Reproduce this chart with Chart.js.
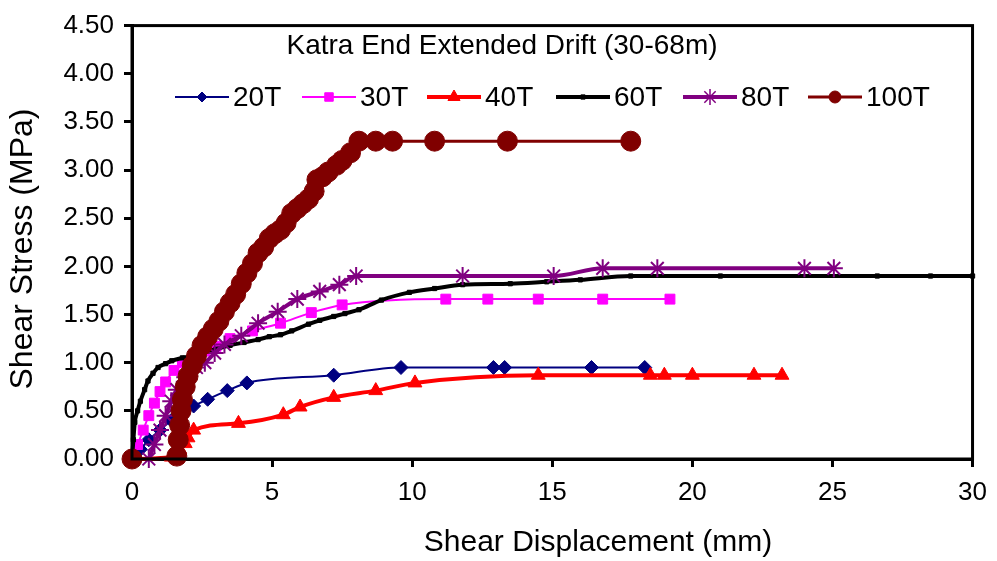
<!DOCTYPE html>
<html>
<head>
<meta charset="utf-8">
<script src="https://cdn.jsdelivr.net/npm/chart.js@4"></script>
<style>
  html, body { margin: 0; padding: 0; background: #fff; }
  #wrap { width: 997px; height: 561px; }
</style>
</head>
<body>
<div id="wrap"><canvas id="chart" width="997" height="561"></canvas></div>
<script>
// values (shear displacement in mm, shear stress in MPa)
const chartTitle = "Katra End Extended Drift (30-68m)";
const xTitle = "Shear Displacement (mm)";
const yTitle = "Shear Stress (MPa)";
const seriesNames = ["20T", "30T", "40T", "60T", "80T", "100T"];
const xTicks = [0, 5, 10, 15, 20, 25, 30];
const yTicks = [0, 0.5, 1, 1.5, 2, 2.5, 3, 3.5, 4, 4.5];

const x20 = [0, 0.3, 0.6, 1.0, 1.4, 1.8, 2.2, 2.7, 3.4, 4.1, 7.2, 9.6, 12.9, 13.3, 16.4, 18.3];
const y20 = [0, 0.1, 0.2, 0.3, 0.4, 0.48, 0.55, 0.62, 0.71, 0.79, 0.87, 0.95, 0.95, 0.95, 0.95, 0.95];

const x30 = [0, 0.2, 0.4, 0.6, 0.8, 1.0, 1.2, 1.5, 1.8, 2.2, 2.6, 3.0, 3.5, 4.3, 5.3, 6.4, 7.5, 11.2, 12.7, 14.5, 16.8, 19.2];
const y30 = [0, 0.15, 0.3, 0.45, 0.58, 0.7, 0.8, 0.92, 1.0, 1.08, 1.12, 1.17, 1.25, 1.33, 1.41, 1.52, 1.6, 1.66, 1.66, 1.66, 1.66, 1.66];

const x40 = [0, 1.4, 1.7, 1.9, 2.0, 2.2, 3.8, 5.4, 6.0, 7.2, 8.7, 10.1, 14.5, 18.5, 19.0, 20.0, 22.2, 23.2];
const y40 = [0, 0.02, 0.1, 0.16, 0.22, 0.3, 0.37, 0.46, 0.54, 0.64, 0.71, 0.79, 0.87, 0.87, 0.87, 0.87, 0.87, 0.87];

const x60 = [0, 0.05, 0.1, 0.2, 0.3, 0.45, 0.57, 0.75, 0.93, 1.2, 1.42, 1.8, 2.1, 2.5, 3.0, 3.5, 4.0, 4.5, 4.9, 5.3, 5.7, 6.3, 6.7, 7.2, 7.6, 8.1, 8.9, 9.9, 10.8, 11.8, 13.5, 14.8, 16.0, 17.8, 21.0, 26.6, 28.5, 30];
const y60 = [0, 0.2, 0.38, 0.5, 0.6, 0.72, 0.81, 0.89, 0.95, 0.99, 1.02, 1.05, 1.07, 1.1, 1.14, 1.18, 1.21, 1.24, 1.27, 1.29, 1.33, 1.4, 1.44, 1.48, 1.51, 1.55, 1.65, 1.73, 1.77, 1.81, 1.82, 1.84, 1.86, 1.9, 1.9, 1.9, 1.9, 1.9];

const x80 = [0.6, 0.8, 1.0, 1.2, 1.4, 1.6, 1.9, 2.3, 2.6, 2.95, 3.3, 3.9, 4.5, 5.2, 5.9, 6.7, 7.4, 8.0, 11.8, 15.05, 16.8, 18.75, 24.0, 25.05];
const y80 = [0, 0.15, 0.3, 0.45, 0.6, 0.72, 0.85, 0.95, 1.0, 1.1, 1.19, 1.28, 1.41, 1.53, 1.66, 1.74, 1.81, 1.9, 1.9, 1.9, 1.98, 1.98, 1.98, 1.98];

const x100 = [0, 1.6, 1.65, 1.7, 1.75, 1.8, 1.9, 2.0, 2.15, 2.3, 2.5, 2.7, 2.9, 3.1, 3.3, 3.5, 3.7, 3.9, 4.1, 4.3, 4.5, 4.7, 4.9, 5.1, 5.3, 5.5, 5.7, 5.9, 6.1, 6.3, 6.5, 6.6, 6.8, 7.0, 7.3, 7.5, 7.8, 8.1, 8.7, 9.3, 10.8, 13.4, 17.8];
const y100 = [0, 0.03, 0.2, 0.35, 0.5, 0.62, 0.75, 0.86, 0.97, 1.07, 1.18, 1.27, 1.35, 1.43, 1.53, 1.62, 1.71, 1.82, 1.93, 2.03, 2.14, 2.2, 2.29, 2.34, 2.38, 2.45, 2.55, 2.6, 2.65, 2.7, 2.78, 2.9, 2.93, 2.98, 3.05, 3.1, 3.18, 3.3, 3.3, 3.3, 3.3, 3.3, 3.3];

const FONT = "'Liberation Sans', Arial, sans-serif";

function pts(xs, ys){
  return xs.map((x, i) => ({x, y: ys[i]}));
}

// per series look (colour, marker, line width)
const styles = [
  {color: "#000080", point: "rectRot", r: 7, lw: 2, legR: 5},
  {color: "#ff00ff", point: "rect", r: 7, lw: 2, legR: 6},
  {color: "#ff0000", point: "triangle", r: 8, lw: 4, legR: 7},
  {color: "#000000", point: "rect", r: 3, lw: 4, legR: 3},
  {color: "#800080", point: "star", r: 9, lw: 4, legR: 8},
  {color: "#800000", point: "circle", r: 10, lw: 3, legR: 6}
];
const seriesData = [pts(x20, y20), pts(x30, y30), pts(x40, y40), pts(x60, y60), pts(x80, y80), pts(x100, y100)];

const datasets = seriesNames.map((name, i) => ({
  label: name,
  data: seriesData[i],
  borderColor: styles[i].color,
  backgroundColor: styles[i].color,
  borderWidth: styles[i].lw,
  pointStyle: styles[i].point,
  pointRadius: styles[i].r,
  pointBorderWidth: styles[i].point === "star" ? 2 : 1,
  pointBorderColor: styles[i].color,
  pointBackgroundColor: styles[i].color,
  cubicInterpolationMode: "monotone",
  order: seriesNames.length - i,
  clip: false
}));

// title, legend and axis titles, drawn by hand so they sit where the original has them
const framePlugin = {
  id: "frame",
  afterDraw(chart){
    const {ctx, chartArea: a} = chart;
    ctx.save();
    ctx.strokeStyle = "#000";
    ctx.lineWidth = 3;
    ctx.strokeRect(a.left, a.top, a.right - a.left, a.bottom - a.top);

    ctx.fillStyle = "#000";
    ctx.textAlign = "center";
    ctx.textBaseline = "middle";
    ctx.font = "28px " + FONT;
    ctx.fillText(chartTitle, 502, 46);

    ctx.font = "30px " + FONT;
    ctx.fillText(xTitle, 598, 543);
    ctx.save();
    ctx.translate(23, 249);
    ctx.rotate(-Math.PI / 2);
    ctx.font = "32px " + FONT;
    ctx.fillText(yTitle, 0, 0);
    ctx.restore();

    const legY = 97;
    const lineStart = [175, 302, 427, 556, 683, 808];
    const lineLen = 54;
    ctx.textAlign = "left";
    ctx.font = "28px " + FONT;
    seriesNames.forEach((name, i) => {
      const s = styles[i];
      const x0 = lineStart[i];
      ctx.strokeStyle = s.color;
      ctx.lineWidth = s.lw;
      ctx.beginPath();
      ctx.moveTo(x0, legY);
      ctx.lineTo(x0 + lineLen, legY);
      ctx.stroke();
      ctx.fillStyle = s.color;
      ctx.lineWidth = s.point === "star" ? 1.5 : 1;
      Chart.helpers.drawPoint(ctx, {pointStyle: s.point, radius: s.legR, rotation: 0, borderWidth: 1}, x0 + lineLen / 2, legY);
      ctx.fillStyle = "#000";
      ctx.fillText(name, x0 + lineLen + 4, legY + 1);
    });
    ctx.restore();
  }
};

new Chart(document.getElementById("chart"), {
  type: "line",
  data: {datasets},
  options: {
    responsive: false,
    animation: false,
    layout: {padding: {top: 22, right: 22, left: 0, bottom: 0}},
    plugins: {legend: {display: false}, tooltip: {enabled: false}},
    scales: {
      x: {
        type: "linear",
        min: 0,
        max: 30,
        afterBuildTicks: s => { s.ticks = xTicks.map(v => ({value: v})); },
        afterFit: s => { s.height = 102; },
        grid: {drawOnChartArea: false, drawTicks: true, tickLength: 8, color: "#000", lineWidth: 3},
        border: {color: "#000", width: 3},
        ticks: {color: "#000", font: {family: FONT, size: 26}, padding: 10, maxRotation: 0}
      },
      y: {
        min: 0,
        max: 4.5,
        afterBuildTicks: s => { s.ticks = yTicks.map(v => ({value: v})); },
        afterFit: s => { s.width = 132; },
        grid: {drawOnChartArea: false, drawTicks: true, tickLength: 8, color: "#000", lineWidth: 3},
        border: {color: "#000", width: 3},
        ticks: {color: "#000", font: {family: FONT, size: 26}, padding: 10, callback: v => v.toFixed(2)}
      }
    }
  },
  plugins: [framePlugin]
});
</script>
</body>
</html>
